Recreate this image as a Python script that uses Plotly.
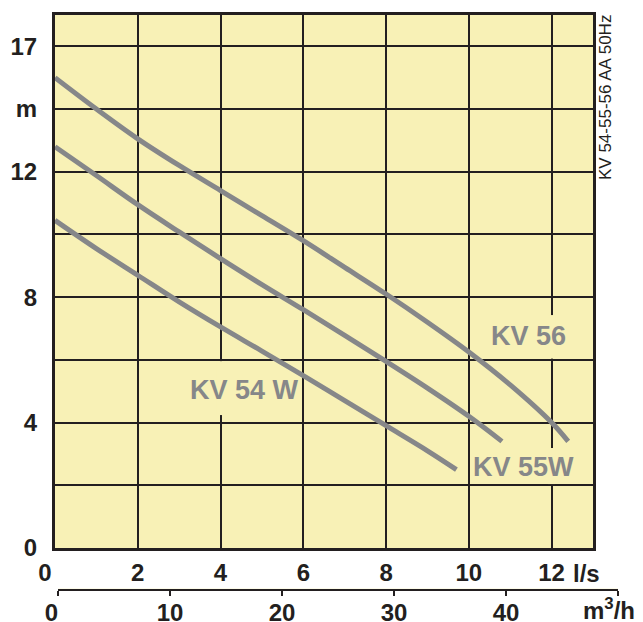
import plotly.graph_objects as go

# ---- data ----
flow_kv56 = [0, 1, 2, 3, 4, 5, 6, 7, 8, 9, 10, 11, 12, 12.4]
head_kv56 = [15.0, 14.0, 13.05, 12.2, 11.4, 10.6, 9.8, 8.95, 8.1, 7.2, 6.25, 5.2, 4.0, 3.4]

flow_kv55w = [0, 1, 2, 3, 4, 5, 6, 7, 8, 9, 10, 10.8]
head_kv55w = [12.8, 11.88, 10.95, 10.08, 9.23, 8.4, 7.6, 6.78, 5.95, 5.1, 4.2, 3.4]

flow_kv54w = [0, 1, 2, 3, 4, 5, 6, 7, 8, 9, 9.7]
head_kv54w = [10.45, 9.55, 8.7, 7.85, 7.05, 6.28, 5.5, 4.7, 3.9, 3.1, 2.5]

ls_ticks = [0, 2, 4, 6, 8, 10, 12]
ls_labels = ["0\u00a0\u00a0\u00a0", "2", "4", "6", "8", "10", "12"]
m_ticks = [0, 2, 4, 6, 8, 10, 12, 14, 16]
m_labels = ["0", "", "4", "", "8", "", "12", "m", "17"]
m3h_ticks = [0, 10, 20, 30, 40, 50]
m3h_labels = ["0\u00a0\u00a0", "10", "20", "30", "40", ""]

series_names = ["KV 56", "KV 55W", "KV 54 W"]

# ---- styles ----
YELLOW = "#F8F1B6"
INK = "#231F20"
GREY = "#868789"
FONT = "Liberation Sans, Arial, sans-serif"

# screen geometry (page has an 8px body margin)
OFF = 8
SW, SH = 643, 622
W, H = SW - OFF, SH - OFF
PL, PR, PT, PB = 55, 618, 15, 589          # screen px of the full plot area (incl. m3/h axis)
L, R, T, B = PL - OFF, W - (PR - OFF), PT - OFF, H - (PB - OFF)
plot_w = PR - PL
plot_h = PB - PT


def px(sx):
    return (sx - PL) / plot_w


def py(sy):
    return (PB - sy) / plot_h


fig = go.Figure()
for fx, hy, nm in [(flow_kv56, head_kv56, series_names[0]),
                   (flow_kv55w, head_kv55w, series_names[1]),
                   (flow_kv54w, head_kv54w, series_names[2])]:
    fig.add_trace(go.Scatter(x=fx, y=hy, mode="lines", name=nm,
                             line=dict(color=GREY, width=5, shape="spline", smoothing=1.0),
                             showlegend=False, hoverinfo="skip"))

# dummy trace for the m3/h axis
fig.add_trace(go.Scatter(x=m3h_ticks, y=[None] * len(m3h_ticks), xaxis="x2", yaxis="y2",
                         mode="markers", showlegend=False, hoverinfo="skip"))

tickfont = dict(family=FONT, size=24, color=INK, weight="bold")

fig.update_layout(
    width=W, height=H,
    margin=dict(l=L, r=R, t=T, b=B, autoexpand=False),
    paper_bgcolor="white",
    plot_bgcolor=YELLOW,
    xaxis=dict(range=[0, 13], domain=[0, px(593)], anchor="y", automargin=False,
               tickvals=ls_ticks, ticktext=ls_labels, ticks="", ticklabelstandoff=1,
               showgrid=True, gridcolor=INK, gridwidth=2, zeroline=False,
               showline=True, linecolor=INK, linewidth=3, mirror=True,
               tickfont=tickfont, fixedrange=True),
    yaxis=dict(range=[0, 17], domain=[py(548), 1], anchor="x", automargin=False,
               tickvals=m_ticks, ticktext=m_labels, ticks="", ticklabelstandoff=10,
               showgrid=True, gridcolor=INK, gridwidth=2, zeroline=False,
               showline=True, linecolor=INK, linewidth=3, mirror=True,
               tickfont=tickfont, fixedrange=True),
    xaxis2=dict(range=[0, 50], domain=[px(58), 1], anchor="y2", automargin=False,
                tickvals=m3h_ticks, ticktext=m3h_labels, ticks="outside", ticklen=5,
                tickwidth=2, tickcolor=INK, showgrid=False, zeroline=False,
                ticklabelstandoff=-4,
                showline=True, linecolor=INK, linewidth=2, tickfont=tickfont,
                fixedrange=True),
    yaxis2=dict(domain=[0, 0.0005], visible=False, anchor="x2", range=[0, 1],
                fixedrange=True),
)

# gaps in the grid behind the curve labels
gaps = [(12, 6.04, 7.43), (12, 2.04, 3.19), (4, 4.24, 5.96)]
for gx, gy0, gy1 in gaps:
    fig.add_shape(type="rect", xref="x", yref="y", x0=gx - 0.09, x1=gx + 0.09, y0=gy0, y1=gy1,
                  fillcolor=YELLOW, line=dict(width=0), layer="between")

labelfont = dict(family=FONT, size=27, color=GREY, weight="bold")
for txt, lx, ly in [(series_names[0], 11.43, 6.76), (series_names[1], 11.33, 2.57),
                    (series_names[2], 4.57, 5.04)]:
    fig.add_annotation(x=lx, y=ly, xref="x", yref="y", text=txt, showarrow=False,
                       xanchor="center", yanchor="middle", font=labelfont)

fig.add_annotation(x=px(586), y=py(573), xref="paper", yref="paper",
                   xanchor="center", yanchor="middle",
                   text="l/s", showarrow=False, font=tickfont)
fig.add_annotation(x=px(609), y=py(609), xref="paper", yref="paper",
                   xanchor="center", yanchor="middle",
                   text="m<sup>3</sup>/h", showarrow=False, font=tickfont)
fig.add_annotation(x=px(605), y=py(98), xref="paper", yref="paper",
                   xanchor="center", yanchor="middle",
                   text="KV 54-55-56 AA 50Hz", textangle=-90, showarrow=False,
                   font=dict(family=FONT, size=17, color=INK))

fig.write_html("out.html")
